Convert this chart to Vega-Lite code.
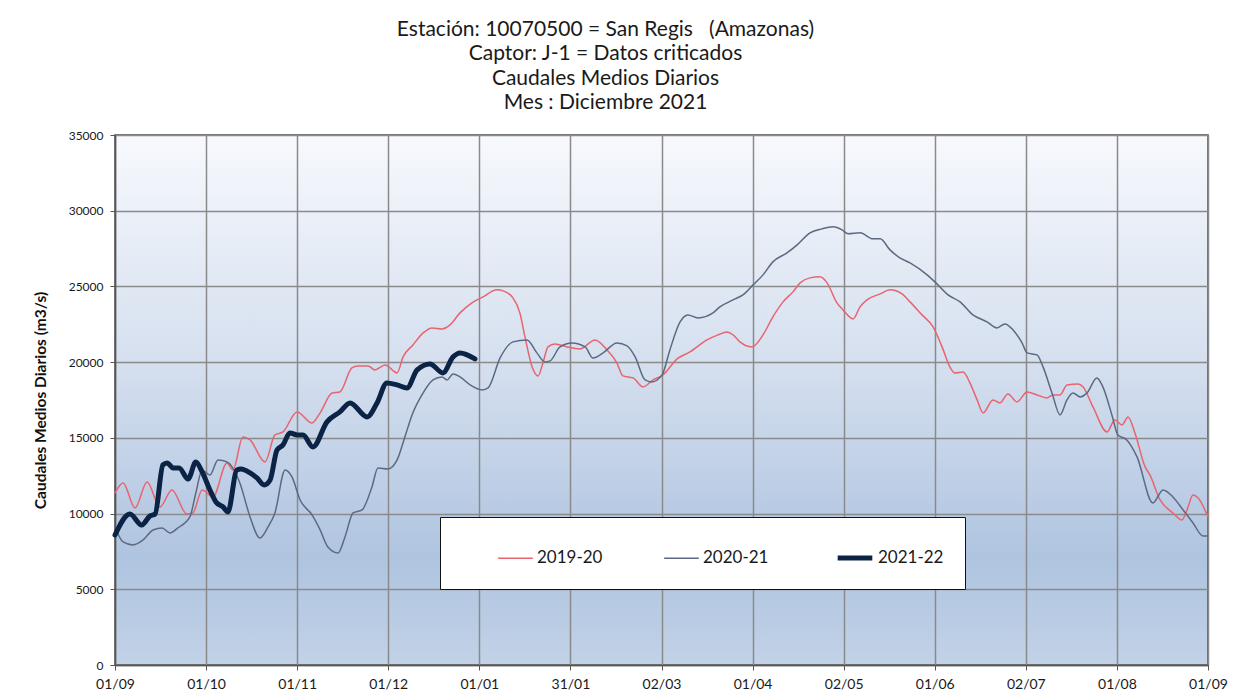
{
  "$schema": "https://vega.github.io/schema/vega-lite/v6.json",
  "autosize": {"type": "none"},
  "width": 1093,
  "height": 530,
  "padding": {"left": 115, "top": 135, "right": 35, "bottom": 35},
  "background": "white",
  "title": {
    "text": ["Estación: 10070500 = San Regis\u00a0\u00a0\u00a0(Amazonas)", "Captor: J-1 = Datos criticados", "Caudales Medios Diarios", "Mes : Diciembre 2021"],
    "font": "Lato",
    "fontSize": 21,
    "fontWeight": "normal",
    "color": "#1a1a1a",
    "lineHeight": 24.4,
    "anchor": "middle",
    "frame": "group",
    "dx": -56,
    "offset": 16
  },
  "config": {
    "view": {
      "stroke": "#4a4a4a",
      "strokeWidth": 1.5,
      "fill": {
        "gradient": "linear",
        "x1": 0, "y1": 0, "x2": 0, "y2": 1,
        "stops": [
          {"offset": 0, "color": "#f7f9fd"},
          {"offset": 0.45, "color": "#d3deee"},
          {"offset": 0.8, "color": "#afc4e0"},
          {"offset": 1, "color": "#c2d2e7"}
        ]
      }
    },
    "axis": {
      "gridColor": "#8a8a8a",
      "gridWidth": 1.5,
      "domainColor": "#555555",
      "domainWidth": 1.5,
      "tickColor": "#555555",
      "tickSize": 5,
      "labelFont": "Lato",
      "labelColor": "#1a1a1a",
      "titleFont": "Lato"
    }
  },
  "data": {
    "values": [
      {"serie": "2019-20", "dia": 0, "caudal": 11362},
      {"serie": "2019-20", "dia": 2.7, "caudal": 12023},
      {"serie": "2019-20", "dia": 6.7, "caudal": 10371},
      {"serie": "2019-20", "dia": 10.7, "caudal": 12089},
      {"serie": "2019-20", "dia": 15.0, "caudal": 10437},
      {"serie": "2019-20", "dia": 19.0, "caudal": 11560},
      {"serie": "2019-20", "dia": 24.0, "caudal": 9975},
      {"serie": "2019-20", "dia": 26.0, "caudal": 10041},
      {"serie": "2019-20", "dia": 29.1, "caudal": 11560},
      {"serie": "2019-20", "dia": 32.7, "caudal": 11098},
      {"serie": "2019-20", "dia": 37.4, "caudal": 13344},
      {"serie": "2019-20", "dia": 39.4, "caudal": 12882},
      {"serie": "2019-20", "dia": 42.7, "caudal": 15062},
      {"serie": "2019-20", "dia": 45.1, "caudal": 14864},
      {"serie": "2019-20", "dia": 50.1, "caudal": 13410},
      {"serie": "2019-20", "dia": 53.4, "caudal": 15194},
      {"serie": "2019-20", "dia": 56.1, "caudal": 15392},
      {"serie": "2019-20", "dia": 60.8, "caudal": 16713},
      {"serie": "2019-20", "dia": 65.8, "caudal": 15987},
      {"serie": "2019-20", "dia": 68.5, "caudal": 16647},
      {"serie": "2019-20", "dia": 72.5, "caudal": 17968},
      {"serie": "2019-20", "dia": 75.1, "caudal": 18034},
      {"serie": "2019-20", "dia": 79.1, "caudal": 19620},
      {"serie": "2019-20", "dia": 81.1, "caudal": 19752},
      {"serie": "2019-20", "dia": 84.5, "caudal": 19752},
      {"serie": "2019-20", "dia": 86.8, "caudal": 19488},
      {"serie": "2019-20", "dia": 90.2, "caudal": 19818},
      {"serie": "2019-20", "dia": 94.2, "caudal": 19290},
      {"serie": "2019-20", "dia": 96.2, "caudal": 20346},
      {"serie": "2019-20", "dia": 99.5, "caudal": 21139},
      {"serie": "2019-20", "dia": 102.9, "caudal": 21932},
      {"serie": "2019-20", "dia": 105.9, "caudal": 22262},
      {"serie": "2019-20", "dia": 109.2, "caudal": 22196},
      {"serie": "2019-20", "dia": 111.9, "caudal": 22460},
      {"serie": "2019-20", "dia": 115.2, "caudal": 23253},
      {"serie": "2019-20", "dia": 119.2, "caudal": 23914},
      {"serie": "2019-20", "dia": 122.9, "caudal": 24310},
      {"serie": "2019-20", "dia": 127.6, "caudal": 24773},
      {"serie": "2019-20", "dia": 129.6, "caudal": 24707},
      {"serie": "2019-20", "dia": 132.9, "caudal": 24244},
      {"serie": "2019-20", "dia": 135.2, "caudal": 23253},
      {"serie": "2019-20", "dia": 136.9, "caudal": 21668},
      {"serie": "2019-20", "dia": 139.3, "caudal": 19686},
      {"serie": "2019-20", "dia": 141.3, "caudal": 19091},
      {"serie": "2019-20", "dia": 142.9, "caudal": 19950},
      {"serie": "2019-20", "dia": 144.6, "caudal": 21007},
      {"serie": "2019-20", "dia": 146.9, "caudal": 21205},
      {"serie": "2019-20", "dia": 150.9, "caudal": 21007},
      {"serie": "2019-20", "dia": 155.3, "caudal": 20875},
      {"serie": "2019-20", "dia": 160.3, "caudal": 21470},
      {"serie": "2019-20", "dia": 164.3, "caudal": 20809},
      {"serie": "2019-20", "dia": 167.6, "caudal": 19950},
      {"serie": "2019-20", "dia": 169.6, "caudal": 19091},
      {"serie": "2019-20", "dia": 173.0, "caudal": 18959},
      {"serie": "2019-20", "dia": 176.3, "caudal": 18365},
      {"serie": "2019-20", "dia": 179.7, "caudal": 18827},
      {"serie": "2019-20", "dia": 183.0, "caudal": 19157},
      {"serie": "2019-20", "dia": 187.7, "caudal": 20214},
      {"serie": "2019-20", "dia": 192.0, "caudal": 20677},
      {"serie": "2019-20", "dia": 197.7, "caudal": 21470},
      {"serie": "2019-20", "dia": 201.4, "caudal": 21800},
      {"serie": "2019-20", "dia": 204.4, "caudal": 21998},
      {"serie": "2019-20", "dia": 206.4, "caudal": 21800},
      {"serie": "2019-20", "dia": 208.7, "caudal": 21338},
      {"serie": "2019-20", "dia": 212.7, "caudal": 21007},
      {"serie": "2019-20", "dia": 216.4, "caudal": 21800},
      {"serie": "2019-20", "dia": 219.7, "caudal": 22989},
      {"serie": "2019-20", "dia": 223.1, "caudal": 23980},
      {"serie": "2019-20", "dia": 226.4, "caudal": 24640},
      {"serie": "2019-20", "dia": 228.8, "caudal": 25235},
      {"serie": "2019-20", "dia": 232.1, "caudal": 25565},
      {"serie": "2019-20", "dia": 235.4, "caudal": 25631},
      {"serie": "2019-20", "dia": 237.8, "caudal": 25235},
      {"serie": "2019-20", "dia": 241.1, "caudal": 23914},
      {"serie": "2019-20", "dia": 243.1, "caudal": 23451},
      {"serie": "2019-20", "dia": 246.5, "caudal": 22857},
      {"serie": "2019-20", "dia": 248.8, "caudal": 23649},
      {"serie": "2019-20", "dia": 251.1, "caudal": 24112},
      {"serie": "2019-20", "dia": 255.5, "caudal": 24508},
      {"serie": "2019-20", "dia": 258.8, "caudal": 24773},
      {"serie": "2019-20", "dia": 262.8, "caudal": 24508},
      {"serie": "2019-20", "dia": 265.5, "caudal": 23980},
      {"serie": "2019-20", "dia": 269.5, "caudal": 23121},
      {"serie": "2019-20", "dia": 273.2, "caudal": 22328},
      {"serie": "2019-20", "dia": 276.2, "caudal": 21007},
      {"serie": "2019-20", "dia": 278.8, "caudal": 19686},
      {"serie": "2019-20", "dia": 280.5, "caudal": 19290},
      {"serie": "2019-20", "dia": 283.2, "caudal": 19356},
      {"serie": "2019-20", "dia": 285.5, "caudal": 18629},
      {"serie": "2019-20", "dia": 287.9, "caudal": 17506},
      {"serie": "2019-20", "dia": 289.9, "caudal": 16647},
      {"serie": "2019-20", "dia": 293.2, "caudal": 17506},
      {"serie": "2019-20", "dia": 295.5, "caudal": 17308},
      {"serie": "2019-20", "dia": 298.2, "caudal": 17902},
      {"serie": "2019-20", "dia": 301.2, "caudal": 17374},
      {"serie": "2019-20", "dia": 304.6, "caudal": 18034},
      {"serie": "2019-20", "dia": 307.9, "caudal": 17836},
      {"serie": "2019-20", "dia": 311.2, "caudal": 17638},
      {"serie": "2019-20", "dia": 313.2, "caudal": 17836},
      {"serie": "2019-20", "dia": 315.6, "caudal": 17836},
      {"serie": "2019-20", "dia": 317.9, "caudal": 18497},
      {"serie": "2019-20", "dia": 321.6, "caudal": 18563},
      {"serie": "2019-20", "dia": 323.3, "caudal": 18365},
      {"serie": "2019-20", "dia": 326.6, "caudal": 17043},
      {"serie": "2019-20", "dia": 331.3, "caudal": 15392},
      {"serie": "2019-20", "dia": 333.9, "caudal": 16185},
      {"serie": "2019-20", "dia": 336.3, "caudal": 15854},
      {"serie": "2019-20", "dia": 338.3, "caudal": 16383},
      {"serie": "2019-20", "dia": 340.6, "caudal": 15326},
      {"serie": "2019-20", "dia": 344.0, "caudal": 13080},
      {"serie": "2019-20", "dia": 345.6, "caudal": 12551},
      {"serie": "2019-20", "dia": 349.0, "caudal": 10900},
      {"serie": "2019-20", "dia": 353.3, "caudal": 10041},
      {"serie": "2019-20", "dia": 356.3, "caudal": 9579},
      {"serie": "2019-20", "dia": 358.0, "caudal": 10239},
      {"serie": "2019-20", "dia": 360.0, "caudal": 11230},
      {"serie": "2019-20", "dia": 361.7, "caudal": 11032},
      {"serie": "2019-20", "dia": 365, "caudal": 9777},

      {"serie": "2020-21", "dia": 0, "caudal": 9116},
      {"serie": "2020-21", "dia": 2.7, "caudal": 8125},
      {"serie": "2020-21", "dia": 6.0, "caudal": 7927},
      {"serie": "2020-21", "dia": 9.4, "caudal": 8257},
      {"serie": "2020-21", "dia": 12.7, "caudal": 8918},
      {"serie": "2020-21", "dia": 15.7, "caudal": 9050},
      {"serie": "2020-21", "dia": 18.4, "caudal": 8720},
      {"serie": "2020-21", "dia": 21.0, "caudal": 9050},
      {"serie": "2020-21", "dia": 25.0, "caudal": 9777},
      {"serie": "2020-21", "dia": 27.0, "caudal": 11362},
      {"serie": "2020-21", "dia": 29.1, "caudal": 12882},
      {"serie": "2020-21", "dia": 31.7, "caudal": 12551},
      {"serie": "2020-21", "dia": 34.4, "caudal": 13542},
      {"serie": "2020-21", "dia": 37.4, "caudal": 13410},
      {"serie": "2020-21", "dia": 41.7, "caudal": 12023},
      {"serie": "2020-21", "dia": 45.1, "caudal": 9777},
      {"serie": "2020-21", "dia": 48.4, "caudal": 8390},
      {"serie": "2020-21", "dia": 51.1, "caudal": 9116},
      {"serie": "2020-21", "dia": 53.4, "caudal": 10041},
      {"serie": "2020-21", "dia": 56.8, "caudal": 12882},
      {"serie": "2020-21", "dia": 59.1, "caudal": 12419},
      {"serie": "2020-21", "dia": 61.8, "caudal": 10900},
      {"serie": "2020-21", "dia": 65.8, "caudal": 9909},
      {"serie": "2020-21", "dia": 68.5, "caudal": 8918},
      {"serie": "2020-21", "dia": 71.1, "caudal": 7795},
      {"serie": "2020-21", "dia": 74.5, "caudal": 7399},
      {"serie": "2020-21", "dia": 76.8, "caudal": 8456},
      {"serie": "2020-21", "dia": 79.5, "caudal": 10041},
      {"serie": "2020-21", "dia": 82.5, "caudal": 10239},
      {"serie": "2020-21", "dia": 85.8, "caudal": 11759},
      {"serie": "2020-21", "dia": 87.8, "caudal": 13014},
      {"serie": "2020-21", "dia": 91.2, "caudal": 12948},
      {"serie": "2020-21", "dia": 94.2, "caudal": 13542},
      {"serie": "2020-21", "dia": 96.8, "caudal": 15062},
      {"serie": "2020-21", "dia": 99.2, "caudal": 16515},
      {"serie": "2020-21", "dia": 102.5, "caudal": 17836},
      {"serie": "2020-21", "dia": 106.2, "caudal": 18827},
      {"serie": "2020-21", "dia": 109.2, "caudal": 19025},
      {"serie": "2020-21", "dia": 110.9, "caudal": 18827},
      {"serie": "2020-21", "dia": 112.9, "caudal": 19224},
      {"serie": "2020-21", "dia": 115.2, "caudal": 19025},
      {"serie": "2020-21", "dia": 118.6, "caudal": 18497},
      {"serie": "2020-21", "dia": 122.6, "caudal": 18167},
      {"serie": "2020-21", "dia": 124.6, "caudal": 18299},
      {"serie": "2020-21", "dia": 128.6, "caudal": 20280},
      {"serie": "2020-21", "dia": 132.9, "caudal": 21338},
      {"serie": "2020-21", "dia": 137.6, "caudal": 21470},
      {"serie": "2020-21", "dia": 140.9, "caudal": 20611},
      {"serie": "2020-21", "dia": 143.6, "caudal": 20016},
      {"serie": "2020-21", "dia": 145.3, "caudal": 20082},
      {"serie": "2020-21", "dia": 148.6, "caudal": 21007},
      {"serie": "2020-21", "dia": 152.6, "caudal": 21271},
      {"serie": "2020-21", "dia": 157.0, "caudal": 21007},
      {"serie": "2020-21", "dia": 159.6, "caudal": 20280},
      {"serie": "2020-21", "dia": 163.0, "caudal": 20611},
      {"serie": "2020-21", "dia": 167.6, "caudal": 21271},
      {"serie": "2020-21", "dia": 171.0, "caudal": 21073},
      {"serie": "2020-21", "dia": 173.7, "caudal": 20346},
      {"serie": "2020-21", "dia": 177.0, "caudal": 18827},
      {"serie": "2020-21", "dia": 179.3, "caudal": 18695},
      {"serie": "2020-21", "dia": 182.7, "caudal": 19157},
      {"serie": "2020-21", "dia": 185.3, "caudal": 20809},
      {"serie": "2020-21", "dia": 188.7, "caudal": 22659},
      {"serie": "2020-21", "dia": 191.3, "caudal": 23121},
      {"serie": "2020-21", "dia": 194.7, "caudal": 22923},
      {"serie": "2020-21", "dia": 199.7, "caudal": 23253},
      {"serie": "2020-21", "dia": 202.0, "caudal": 23649},
      {"serie": "2020-21", "dia": 206.4, "caudal": 24112},
      {"serie": "2020-21", "dia": 209.7, "caudal": 24442},
      {"serie": "2020-21", "dia": 213.1, "caudal": 25103},
      {"serie": "2020-21", "dia": 216.4, "caudal": 25763},
      {"serie": "2020-21", "dia": 219.7, "caudal": 26622},
      {"serie": "2020-21", "dia": 224.4, "caudal": 27217},
      {"serie": "2020-21", "dia": 227.8, "caudal": 27745},
      {"serie": "2020-21", "dia": 232.1, "caudal": 28538},
      {"serie": "2020-21", "dia": 236.1, "caudal": 28802},
      {"serie": "2020-21", "dia": 239.8, "caudal": 28934},
      {"serie": "2020-21", "dia": 242.8, "caudal": 28736},
      {"serie": "2020-21", "dia": 244.8, "caudal": 28472},
      {"serie": "2020-21", "dia": 248.8, "caudal": 28538},
      {"serie": "2020-21", "dia": 253.1, "caudal": 28142},
      {"serie": "2020-21", "dia": 255.5, "caudal": 28142},
      {"serie": "2020-21", "dia": 258.8, "caudal": 27415},
      {"serie": "2020-21", "dia": 262.1, "caudal": 26886},
      {"serie": "2020-21", "dia": 265.5, "caudal": 26556},
      {"serie": "2020-21", "dia": 271.2, "caudal": 25763},
      {"serie": "2020-21", "dia": 273.8, "caudal": 25301},
      {"serie": "2020-21", "dia": 278.2, "caudal": 24442},
      {"serie": "2020-21", "dia": 282.2, "caudal": 23980},
      {"serie": "2020-21", "dia": 286.5, "caudal": 23121},
      {"serie": "2020-21", "dia": 291.2, "caudal": 22659},
      {"serie": "2020-21", "dia": 294.5, "caudal": 22262},
      {"serie": "2020-21", "dia": 297.2, "caudal": 22526},
      {"serie": "2020-21", "dia": 299.9, "caudal": 22128},
      {"serie": "2020-21", "dia": 302.9, "caudal": 21271},
      {"serie": "2020-21", "dia": 304.6, "caudal": 20611},
      {"serie": "2020-21", "dia": 307.9, "caudal": 20479},
      {"serie": "2020-21", "dia": 309.9, "caudal": 19686},
      {"serie": "2020-21", "dia": 312.9, "caudal": 17968},
      {"serie": "2020-21", "dia": 315.6, "caudal": 16515},
      {"serie": "2020-21", "dia": 317.9, "caudal": 17506},
      {"serie": "2020-21", "dia": 319.9, "caudal": 17968},
      {"serie": "2020-21", "dia": 322.3, "caudal": 17704},
      {"serie": "2020-21", "dia": 324.6, "caudal": 17968},
      {"serie": "2020-21", "dia": 327.9, "caudal": 18959},
      {"serie": "2020-21", "dia": 329.9, "caudal": 18365},
      {"serie": "2020-21", "dia": 332.9, "caudal": 16515},
      {"serie": "2020-21", "dia": 334.9, "caudal": 15194},
      {"serie": "2020-21", "dia": 337.9, "caudal": 14864},
      {"serie": "2020-21", "dia": 341.3, "caudal": 13740},
      {"serie": "2020-21", "dia": 346.6, "caudal": 10702},
      {"serie": "2020-21", "dia": 350.0, "caudal": 11560},
      {"serie": "2020-21", "dia": 353.3, "caudal": 11098},
      {"serie": "2020-21", "dia": 356.7, "caudal": 10239},
      {"serie": "2020-21", "dia": 360.0, "caudal": 9381},
      {"serie": "2020-21", "dia": 363.3, "caudal": 8522},
      {"serie": "2020-21", "dia": 365, "caudal": 8522},

      {"serie": "2021-22", "dia": 0, "caudal": 8588},
      {"serie": "2021-22", "dia": 5.0, "caudal": 9975},
      {"serie": "2021-22", "dia": 8.9, "caudal": 9248},
      {"serie": "2021-22", "dia": 11.7, "caudal": 9843},
      {"serie": "2021-22", "dia": 13.4, "caudal": 9975},
      {"serie": "2021-22", "dia": 16.0, "caudal": 13212},
      {"serie": "2021-22", "dia": 17.4, "caudal": 13344},
      {"serie": "2021-22", "dia": 19.4, "caudal": 13014},
      {"serie": "2021-22", "dia": 21.4, "caudal": 13014},
      {"serie": "2021-22", "dia": 24.4, "caudal": 12287},
      {"serie": "2021-22", "dia": 27.0, "caudal": 13410},
      {"serie": "2021-22", "dia": 29.1, "caudal": 12750},
      {"serie": "2021-22", "dia": 31.7, "caudal": 11560},
      {"serie": "2021-22", "dia": 33.7, "caudal": 10768},
      {"serie": "2021-22", "dia": 36.1, "caudal": 10437},
      {"serie": "2021-22", "dia": 37.7, "caudal": 10107},
      {"serie": "2021-22", "dia": 40.7, "caudal": 12882},
      {"serie": "2021-22", "dia": 42.1, "caudal": 12948},
      {"serie": "2021-22", "dia": 45.1, "caudal": 12684},
      {"serie": "2021-22", "dia": 47.4, "caudal": 12353},
      {"serie": "2021-22", "dia": 49.8, "caudal": 11891},
      {"serie": "2021-22", "dia": 51.8, "caudal": 12221},
      {"serie": "2021-22", "dia": 54.1, "caudal": 14203},
      {"serie": "2021-22", "dia": 56.1, "caudal": 14533},
      {"serie": "2021-22", "dia": 58.4, "caudal": 15326},
      {"serie": "2021-22", "dia": 60.8, "caudal": 15194},
      {"serie": "2021-22", "dia": 62.8, "caudal": 15194},
      {"serie": "2021-22", "dia": 66.1, "caudal": 14401},
      {"serie": "2021-22", "dia": 70.8, "caudal": 16053},
      {"serie": "2021-22", "dia": 75.1, "caudal": 16713},
      {"serie": "2021-22", "dia": 78.5, "caudal": 17308},
      {"serie": "2021-22", "dia": 84.2, "caudal": 16383},
      {"serie": "2021-22", "dia": 87.5, "caudal": 17308},
      {"serie": "2021-22", "dia": 90.8, "caudal": 18629},
      {"serie": "2021-22", "dia": 94.2, "caudal": 18497},
      {"serie": "2021-22", "dia": 97.5, "caudal": 18299},
      {"serie": "2021-22", "dia": 100.9, "caudal": 19488},
      {"serie": "2021-22", "dia": 105.2, "caudal": 19884},
      {"serie": "2021-22", "dia": 109.5, "caudal": 19290},
      {"serie": "2021-22", "dia": 112.9, "caudal": 20346},
      {"serie": "2021-22", "dia": 115.2, "caudal": 20611},
      {"serie": "2021-22", "dia": 120.2, "caudal": 20214}
    ]
  },
  "mark": {"type": "line", "interpolate": "monotone", "strokeCap": "round", "strokeJoin": "round"},
  "encoding": {
    "x": {
      "field": "dia",
      "type": "quantitative",
      "scale": {"domain": [0, 365], "nice": false, "zero": false},
      "axis": {
        "title": null,
        "values": [0, 30.4167, 60.8333, 91.25, 121.6667, 152.0833, 182.5, 212.9167, 243.3333, 273.75, 304.1667, 334.5833, 365],
        "labelExpr": "['01/09','01/10','01/11','01/12','01/01','31/01','02/03','01/04','02/05','01/06','02/07','01/08','01/09'][round(datum.value*12/365)]",
        "labelFontSize": 14,
        "labelFlush": false,
        "labelOverlap": false,
        "labelPadding": 7
      }
    },
    "y": {
      "field": "caudal",
      "type": "quantitative",
      "scale": {"domain": [0, 35000], "nice": false},
      "axis": {
        "title": "Caudales Medios Diarios (m3/s)",
        "titleFontSize": 15.5,
        "titleFontWeight": "bold",
        "titleColor": "#111111",
        "titlePadding": 20,
        "values": [0, 5000, 10000, 15000, 20000, 25000, 30000, 35000],
        "format": "d",
        "labelFontSize": 12,
        "labelPadding": 7
      }
    },
    "color": {
      "field": "serie",
      "type": "nominal",
      "scale": {"domain": ["2019-20", "2020-21", "2021-22"], "range": ["#e8646e", "#5b6a82", "#0b2445"]},
      "legend": {
        "orient": "none",
        "legendX": 325,
        "legendY": 382,
        "direction": "horizontal",
        "title": " ",
        "titleOrient": "left",
        "titlePadding": 36,
        "padding": 21,
        "fillColor": "white",
        "strokeColor": "#111111",
        "symbolType": "stroke",
        "symbolSize": 1200,
        "labelFont": "Lato",
        "labelFontSize": 17,
        "labelColor": "#1a1a1a",
        "labelOffset": 3,
        "columnPadding": 58
      }
    },
    "strokeWidth": {
      "field": "serie",
      "type": "nominal",
      "scale": {"type": "ordinal", "domain": ["2019-20", "2020-21", "2021-22"], "range": [1.5, 1.5, 5]},
      "legend": {
        "orient": "none",
        "legendX": 325,
        "legendY": 382,
        "direction": "horizontal",
        "title": " ",
        "titleOrient": "left",
        "titlePadding": 36,
        "padding": 21,
        "fillColor": "white",
        "strokeColor": "#111111",
        "symbolType": "stroke",
        "symbolSize": 1200,
        "labelFont": "Lato",
        "labelFontSize": 17,
        "labelColor": "#1a1a1a",
        "labelOffset": 3,
        "columnPadding": 58
      }
    }
  }
}
